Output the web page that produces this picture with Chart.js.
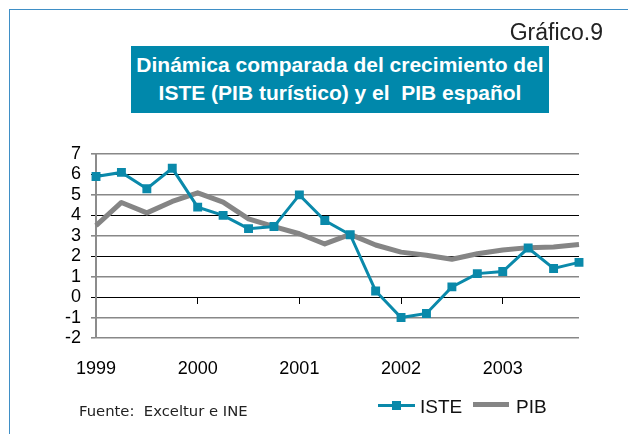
<!DOCTYPE html>
<html>
<head>
<meta charset="utf-8">
<script src="https://cdn.jsdelivr.net/npm/chart.js@4.4.0/dist/chart.umd.min.js"></script>
<style>
html,body{margin:0;padding:0;background:#fff;}
#wrap{position:relative;width:628px;height:434px;overflow:hidden;font-family:'Liberation Sans',Arial,sans-serif;}
#frame{position:absolute;left:8.5px;top:9px;width:700px;height:500px;border-top:1.5px solid #3f8fc6;border-left:1.5px solid #3f8fc6;}
#cv{position:absolute;left:0;top:0;}
#num{position:absolute;right:25px;top:19px;font-size:23px;line-height:26px;color:#222;}
#title{position:absolute;left:131px;top:46px;width:418px;height:67px;background:#0088ab;color:#fff;font-weight:bold;font-size:21px;line-height:27.5px;text-align:center;box-sizing:border-box;padding-top:5px;white-space:pre;}
#src{position:absolute;left:79px;top:402px;font-family:'DejaVu Sans',sans-serif;font-size:14.8px;line-height:17px;color:#222;white-space:pre;}
.lt{position:absolute;top:396.4px;font-size:19px;line-height:22px;color:#111;}
.ll{position:absolute;}
</style>
</head>
<body>
<div id="wrap">
  <div id="frame"></div>
  <canvas id="cv" width="628" height="434"></canvas>
  <div id="num">Gráfico.9</div>
  <div id="title">Dinámica comparada del crecimiento del
ISTE (PIB turístico) y el  PIB español</div>
  <div id="src">Fuente:  Exceltur e INE</div>
  <div class="ll" style="left:378px;top:404.2px;width:37px;height:3px;background:#0a89aa;"></div>
  <div class="ll" style="left:391.5px;top:401.2px;width:9px;height:9px;background:#0a89aa;"></div>
  <div class="lt" style="left:420px;">ISTE</div>
  <div class="ll" style="left:473px;top:402.2px;width:36px;height:5px;background:#858585;"></div>
  <div class="lt" style="left:516px;">PIB</div>
</div>
<script>
const quarters = ['1999-I','1999-II','1999-III','1999-IV',
                  '2000-I','2000-II','2000-III','2000-IV',
                  '2001-I','2001-II','2001-III','2001-IV',
                  '2002-I','2002-II','2002-III','2002-IV',
                  '2003-I','2003-II','2003-III','2003-IV'];
const yearLabels = ['1999','2000','2001','2002','2003'];
const iste = [5.9, 6.1, 5.3, 6.3, 4.4, 4.0, 3.35, 3.45, 5.0, 3.75,
              3.05, 0.3, -1.0, -0.8, 0.5, 1.15, 1.25, 2.4, 1.4, 1.7];
const pib  = [3.5, 4.63, 4.12, 4.68, 5.1, 4.65, 3.83, 3.45, 3.1, 2.6,
              3.07, 2.55, 2.2, 2.05, 1.85, 2.12, 2.3, 2.42, 2.45, 2.57];
const yMin = -2, yMax = 7, yStep = 1;

const teal = '#0a89aa';
const gray = '#858585';
const tickFont = {family:"'Liberation Sans', Arial, sans-serif", size:18};
const isGrayLine = c => c.tick && (Math.abs(c.tick.value) % 2 === 1 || c.tick.value === yMin);

new Chart(document.getElementById('cv'), {
  type: 'line',
  data: {
    labels: quarters,
    datasets: [
      {label:'ISTE', data: iste, borderColor: teal, backgroundColor: teal,
       borderWidth: 3, pointStyle: 'rect', pointRadius: 6.3, pointHoverRadius: 6.3,
       pointBorderWidth: 0, tension: 0, xAxisID: 'x', yAxisID: 'y'},
      {label:'PIB', data: pib, borderColor: gray, backgroundColor: gray,
       borderWidth: 5, pointRadius: 0, pointHoverRadius: 0, tension: 0,
       borderJoinStyle: 'round', xAxisID: 'x', yAxisID: 'y'}
    ]
  },
  options: {
    responsive: false,
    animation: false,
    devicePixelRatio: 1,
    layout: {padding: {left: 0, right: 49, top: 154, bottom: 56}},
    plugins: {legend: {display: false}, tooltip: {enabled: false}},
    scales: {
      x: {
        type: 'category', position: {y: 0}, offset: false,
        grid: {drawOnChartArea: false, drawTicks: true, tickLength: 6, lineWidth: 1,
               color: c => (c.index % 4 === 0) ? '#000' : 'rgba(0,0,0,0)'},
        border: {display: true, color: '#000', width: 1},
        ticks: {display: false, autoSkip: false}
      },
      x2: {
        type: 'category', position: 'bottom', offset: false,
        grid: {display: false, drawTicks: false},
        border: {display: false},
        ticks: {autoSkip: false, maxRotation: 0, minRotation: 0, padding: 20, color: '#000', font: tickFont,
                callback: (v, i) => (i % 4 === 0) ? yearLabels[i / 4] : ''},
        afterFit: s => { s.height = 40; }
      },
      y: {
        min: yMin, max: yMax,
        ticks: {stepSize: yStep, autoSkip: false, padding: 10, color: '#000', font: tickFont},
        grid: {tickLength: 5,
               color: c => isGrayLine(c) ? '#888' : '#000',
               lineWidth: c => isGrayLine(c) ? 1.6 : 1},
        border: {color: '#8c8c8c', width: 2},
        afterFit: s => { s.width = 96; }
      }
    }
  }
});
</script>
</body>
</html>
